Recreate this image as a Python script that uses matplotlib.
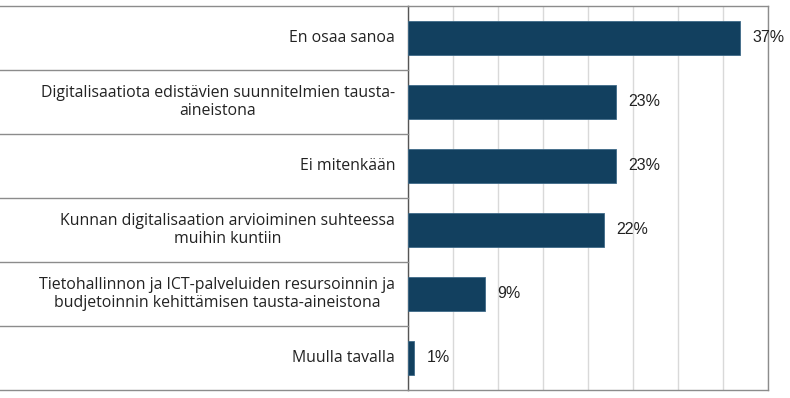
import matplotlib.pyplot as plt
from matplotlib.transforms import blended_transform_factory

categories = [
    "En osaa sanoa",
    "Digitalisaatiota edistävien suunnitelmien tausta-\naineistona",
    "Ei mitenkään",
    "Kunnan digitalisaation arvioiminen suhteessa\nmuihin kuntiin",
    "Tietohallinnon ja ICT-palveluiden resursoinnin ja\nbudjetoinnin kehittämisen tausta-aineistona",
    "Muulla tavalla",
]
values = [36.9, 23.1, 23.1, 21.8, 8.6, 0.7]
labels = ["37%", "23%", "23%", "22%", "9%", "1%"]

bar_color = "#12405f"
line_color = "#8c8c8c"

fig = plt.figure(figsize=(7.9, 3.98), dpi=100)
ax = fig.add_axes([408 / 790, 8 / 398, 360 / 790, 384 / 398])

n = len(categories)
ypos = list(range(n))
ax.barh(ypos, values, height=0.53, color=bar_color, edgecolor="#3f6a88", linewidth=0.6, zorder=3)

ax.set_xlim(0, 40)
ax.set_ylim(n - 0.5, -0.5)
ax.set_xticks(range(0, 41, 5))
ax.xaxis.grid(True, color="#d9d9d9", linewidth=1, zorder=0)
ax.tick_params(left=False, bottom=False, labelbottom=False, labelleft=False)

for side in ["top", "bottom", "right"]:
    ax.spines[side].set_color(line_color)
    ax.spines[side].set_linewidth(1)
ax.spines["left"].set_color("#555555")
ax.spines["left"].set_linewidth(1)

# separators across the label column
trans = blended_transform_factory(ax.transAxes, ax.transData)
label_left = -408 / 360
for k in range(n + 1):
    y = k - 0.5
    ax.plot([label_left, 0], [y, y], transform=trans, color=line_color,
            linewidth=1, clip_on=False, zorder=4)

label_x = -13 / 360
for i, cat in enumerate(categories):
    ax.text(label_x, i, cat, transform=trans, ha="right", va="center",
            multialignment="center", fontsize=11.4, family="Open Sans",
            color="#222222", linespacing=1.15)

for i, (v, lab) in enumerate(zip(values, labels)):
    ax.annotate(lab, (v, i), xytext=(12, 0), textcoords="offset pixels",
                ha="left", va="center", fontsize=11.5, family="Liberation Sans",
                color="#222222", annotation_clip=False)

fig.savefig("out.png", dpi=100)
